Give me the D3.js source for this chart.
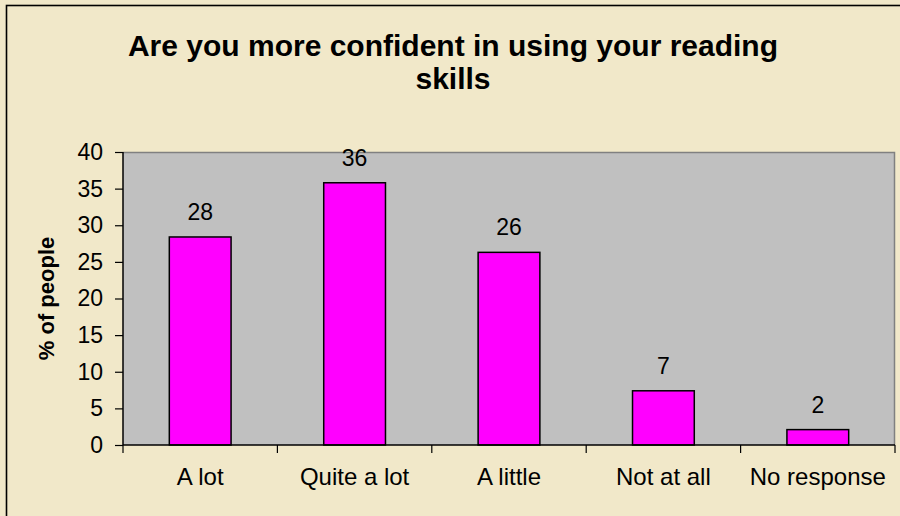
<!DOCTYPE html>
<html>
<head>
<meta charset="utf-8">
<script src="https://cdn.jsdelivr.net/npm/d3@7"></script>
<style>
  html, body { margin: 0; padding: 0; background: #F1E8C9; }
  svg { display: block; }
  text { font-family: "Liberation Sans", Arial, sans-serif; fill: #000; }
</style>
</head>
<body>
<svg id="chart" width="900" height="516"></svg>
<script>
const categories = ["A lot", "Quite a lot", "A little", "Not at all", "No response"];
const values = [28.4, 35.8, 26.3, 7.4, 2.1];
const yTicks = [0, 5, 10, 15, 20, 25, 30, 35, 40];
const titleLines = ["Are you more confident in using your reading", "skills"];
const yAxisTitle = "% of people";

const W = 900, H = 516;
const plot = { left: 123, right: 895, top: 152, bottom: 445 };

const svg = d3.select("#chart");

// chart background and border
svg.append("rect").attr("x", 0).attr("y", 0).attr("width", W).attr("height", H).attr("fill", "#F1E8C9");
svg.append("rect")
  .attr("x", 6.5).attr("y", 5.5).attr("width", W + 20).attr("height", H + 20)
  .attr("fill", "none").attr("stroke", "#000").attr("stroke-width", 1.6);

const x = d3.scaleBand()
  .domain(categories)
  .range([plot.left, plot.right])
  .paddingInner(0.6)
  .paddingOuter(0.3);

const y = d3.scaleLinear().domain([0, 40]).range([plot.bottom, plot.top]);

// plot area
svg.append("rect")
  .attr("x", plot.left).attr("y", plot.top)
  .attr("width", plot.right - plot.left).attr("height", plot.bottom - plot.top)
  .attr("fill", "#C0C0C0");
svg.append("path")
  .attr("d", `M${plot.left},${plot.top + 0.5}H${plot.right - 0.5}V${plot.bottom}`)
  .attr("fill", "none").attr("stroke", "#808080").attr("stroke-width", 1.5);

// bars
svg.append("g").selectAll("rect")
  .data(values)
  .join("rect")
  .attr("x", (d, i) => x(categories[i]))
  .attr("y", d => y(d))
  .attr("width", x.bandwidth())
  .attr("height", d => y(0) - y(d))
  .attr("fill", "#FF00FF")
  .attr("stroke", "#000")
  .attr("stroke-width", 1.5);

// data labels
svg.append("g").selectAll("text")
  .data(values)
  .join("text")
  .attr("x", (d, i) => x(categories[i]) + x.bandwidth() / 2)
  .attr("y", d => y(d) - 17)
  .attr("text-anchor", "middle")
  .style("font-size", "23px")
  .text(d => d3.format(".0f")(d));

// y axis
const yAxis = d3.axisLeft(y).tickValues(yTicks).tickSize(8).tickPadding(12).tickFormat(d3.format("d"));
const gy = svg.append("g").attr("transform", `translate(${plot.left},0)`).call(yAxis);
gy.select(".domain").attr("stroke", "#000").attr("stroke-width", 1.5).attr("d", `M0,${plot.top}V${plot.bottom}`);
gy.selectAll(".tick line").attr("stroke", "#000").attr("stroke-width", 1.2);
gy.selectAll(".tick text").style("font-size", "23px").style("font-family", "'Liberation Sans', Arial, sans-serif");

// x axis with ticks at category boundaries
const xAxisG = svg.append("g").attr("transform", `translate(0,${plot.bottom})`);
xAxisG.append("path")
  .attr("d", `M${plot.left},0H${plot.right}`)
  .attr("stroke", "#000").attr("stroke-width", 1.5);
const boundaries = categories.map(c => x(c) - x.step() * 0.3).concat([plot.right]);
xAxisG.selectAll("line.b")
  .data(boundaries)
  .join("line")
  .attr("class", "b")
  .attr("x1", d => d).attr("x2", d => d)
  .attr("y1", 0).attr("y2", 8)
  .attr("stroke", "#000").attr("stroke-width", 1.2);
xAxisG.selectAll("text")
  .data(categories)
  .join("text")
  .attr("x", d => x(d) + x.bandwidth() / 2)
  .attr("y", 40)
  .attr("text-anchor", "middle")
  .style("font-size", "24px")
  .text(d => d);

// y axis title
svg.append("text")
  .attr("transform", `translate(54,${(plot.top + plot.bottom) / 2}) rotate(-90)`)
  .attr("text-anchor", "middle")
  .style("font-size", "22px")
  .style("font-weight", "bold")
  .text(yAxisTitle);

// title
svg.append("g").selectAll("text")
  .data(titleLines)
  .join("text")
  .attr("x", 453)
  .attr("y", (d, i) => 56 + i * 33)
  .attr("text-anchor", "middle")
  .style("font-size", "30px")
  .style("font-weight", "bold")
  .text(d => d);
</script>
</body>
</html>
